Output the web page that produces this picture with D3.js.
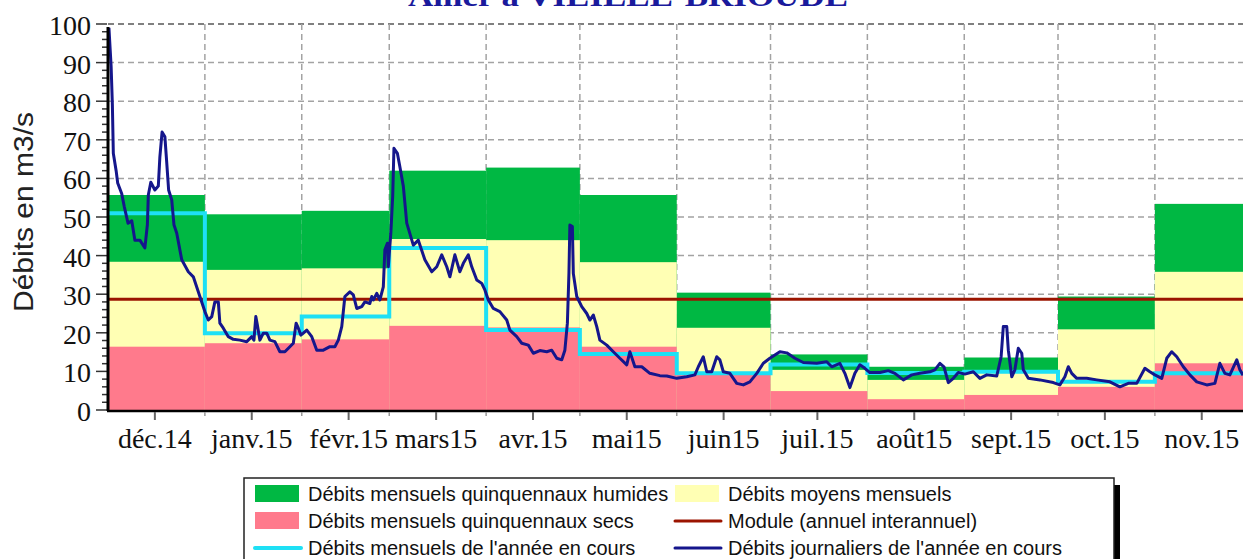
<!DOCTYPE html>
<html><head><meta charset="utf-8">
<script src="https://cdn.jsdelivr.net/npm/d3@7"></script>
<style>html,body{margin:0;padding:0;background:#fff;overflow:hidden}</style>
</head><body>
<svg id="chart" width="1243" height="559"></svg>
<script>
// ---------- DATA ----------
const title = "Allier à VIEILLE-BRIOUDE";
const yLabel = "Débits en m3/s";
const monthStarts = ["2014-12-01","2015-01-01","2015-02-01","2015-03-01","2015-04-01","2015-05-01","2015-06-01","2015-07-01","2015-08-01","2015-09-01","2015-10-01","2015-11-01","2015-12-01"];
const monthLabels = ["déc.14","janv.15","févr.15","mars15","avr.15","mai15","juin15","juil.15","août15","sept.15","oct.15","nov.15"];
const yTicks = [0,10,20,30,40,50,60,70,80,90,100];
const wetFlows  = [55.7,50.7,51.6,62.0,62.8,55.7,30.4,14.4,11.2,13.6,29.4,53.4];   // quinquennaux humides
const meanFlows = [38.4,36.3,36.7,44.3,44.0,38.3,21.3,10.4, 7.8, 9.8,20.9,35.8];   // moyens mensuels
const dryFlows  = [16.4,17.3,18.3,21.8,21.4,16.4, 9.1, 4.9, 2.8, 3.9, 6.0,12.1];   // quinquennaux secs
const currentMonthly = [51.0,19.9,24.2,42.0,20.7,14.5,9.5,11.8,9.6,9.9,7.3,9.5];
const moduleFlow = 28.7;
const dailyStart = "2014-12-01";
const dailyOffset = [0.3,1.0,1.4,1.7,2.6,3.1,4.4,5.2,6.4,7.6,8.6,10.2,11.8,12.6,12.9,13.7,15.0,16.1,16.6,17.3,18.2,18.8,19.4,20.4,21.1,22.0,23.6,25.7,27.3,29.4,31.0,32.1,33.2,34.2,35.3,35.8,36.9,38.5,40.1,42.2,44.4,46.0,46.7,47.3,47.8,48.6,49.7,50.8,51.8,53.4,55.0,56.6,58.2,59.3,60.2,60.9,61.7,62.5,63.6,65.2,66.8,68.9,71.0,72.6,73.7,74.8,75.8,77.4,78.5,79.6,81.2,82.2,83.8,84.4,84.9,86.0,87.0,88.1,88.6,89.4,89.7,90.5,91.1,91.5,92.6,93.4,94.5,95.6,97.7,99.3,101.4,103.6,105.2,106.8,108.4,109.4,111.0,112.6,113.7,115.3,116.4,118.0,119.6,120.6,121.7,123.3,125.4,127.6,128.6,130.8,132.4,134.5,136.1,138.2,140.4,142.0,143.6,145.2,146.2,147.0,147.5,147.8,148.6,148.9,150.0,151.6,153.2,154.2,155.3,156.4,157.4,159.6,161.7,163.8,166.0,167.0,168.6,170.8,173.4,176.6,178.8,182.0,185.2,187.8,188.9,190.5,191.6,193.2,194.8,195.8,196.9,199.0,201.2,203.3,205.4,207.6,209.7,211.8,215.0,217.2,219.8,222.5,226.8,230.0,231.6,234.2,235.8,237.4,239.0,240.6,242.2,243.8,247.0,249.7,251.8,254.5,257.2,259.8,263.0,264.6,266.2,267.5,268.9,270.5,272.1,274.2,276.9,279.0,281.2,284.4,285.8,286.5,287.6,288.1,289.2,290.2,291.3,292.4,292.9,294.5,298.2,302.5,304.6,306.2,307.3,308.4,310.0,313.2,316.4,320.6,323.8,326.5,329.2,331.8,333.4,335.0,337.2,338.8,340.4,342.0,344.1,346.2,348.4,351.6,354.2,355.8,357.4,359.0,361.2,362.2,363.2];
const dailyFlow = [99,89,79,66.5,62,58.8,56,52.7,48.4,49,44,44,42,48,55.7,59,57,58,65.6,72,70.8,64,57,54.4,48,45.8,38.9,35.8,34.5,29.4,25.5,23.3,24.2,28,28,22.5,21.2,19,18.3,18.1,17.7,19,18.1,24.2,22,18.1,19.9,19.9,18.1,17.7,15.1,15.1,16.4,17.3,22.5,21.2,19.4,19.9,20.7,19,15.5,15.5,16.4,16.4,18.1,21.6,29.4,30.6,29.8,26.3,26.8,28,27.6,29.4,28.5,30.2,28.5,31.9,41.5,43.2,37.1,45.8,55.3,67.8,66.5,63,58,48.4,42.7,44,38.9,35.8,37.1,40.2,37.1,34.5,40.2,35.8,38,40.2,37.1,33.7,32.8,31.1,28.5,26.3,25.5,23.3,20.7,19,17.3,16.8,14.7,15.4,15.1,15.5,13.4,13,15.5,22.5,35.4,47.9,47.5,35.4,29.4,26.8,25,23.3,24.6,21.6,18.1,16.8,15.1,13.4,11.7,15.1,11.2,11.2,9.5,8.9,8.8,8.2,8.6,9.1,11.2,13.8,9.9,9.9,13.8,13,9.9,9.5,6.9,6.5,7.3,9.5,12.1,13.4,15.1,14.8,13.4,12.3,12.1,12.5,11.2,12.1,9.5,5.8,9.5,11.7,10.8,9.7,9.7,10.2,9.5,7.8,9.1,9.5,9.9,10.4,12.1,11.2,7.1,8.2,9.7,9.3,9.9,8.2,9.1,8.8,13.8,21.6,21.6,15.5,8.6,10.4,16,14.7,10.4,8.2,7.8,7.1,6.5,8.6,11.2,9.5,8.2,8.2,7.8,7.3,6.0,6.9,6.9,10.8,9.9,9.1,8.2,13.4,15.1,13.8,11.2,9.1,7.3,6.5,6.9,12.1,9.5,9.1,13,10.4,9];
const legendItems = [
  {label:"Débits mensuels quinquennaux humides", kind:"rect", color:"#00b843"},
  {label:"Débits moyens mensuels", kind:"rect", color:"#ffffb4"},
  {label:"Débits mensuels quinquennaux secs", kind:"rect", color:"#ff7a8c"},
  {label:"Module (annuel interannuel)", kind:"line", color:"#9b1400"},
  {label:"Débits mensuels de l'année en cours", kind:"line", color:"#1ee0f5"},
  {label:"Débits journaliers de l'année en cours", kind:"line", color:"#15168c"}
];

// ---------- CHART ----------
const svg = d3.select("#chart");
svg.append("rect").attr("width",1243).attr("height",559).attr("fill","#fff");
const parse = d3.utcParse("%Y-%m-%d");
const months = monthStarts.map(parse);
const x = d3.scaleUtc().domain([months[0], months[12]]).range([108, 108 + 365*3.125]);
const y = d3.scaleLinear().domain([0,100]).range([410,24]);
const plotLeft = 108, plotRight = 1243, plotTop = y(100), plotBottom = y(0);

// gridlines
const grid = svg.append("g");
yTicks.filter(v=>v>0).forEach(v=>{
  grid.append("line").attr("x1",plotLeft).attr("x2",plotRight).attr("y1",y(v)).attr("y2",y(v))
    .attr("stroke", v===100 ? "#808080" : "#a3a3a3").attr("stroke-width", v===100?2:1.5).attr("stroke-dasharray","6,4");
});
months.slice(1,12).forEach(m=>{
  grid.append("line").attr("x1",x(m)).attr("x2",x(m)).attr("y1",plotTop).attr("y2",plotBottom)
    .attr("stroke","#a3a3a3").attr("stroke-width",1.5).attr("stroke-dasharray","6,4");
});

// bands
const bands = svg.append("g");
[[wetFlows,legendItems[0].color],[meanFlows,legendItems[1].color],[dryFlows,legendItems[2].color]].forEach(([arr,col])=>{
  bands.selectAll(null).data(arr).enter().append("rect")
    .attr("x",(d,i)=>x(months[i])).attr("width",(d,i)=>x(months[i+1])-x(months[i]))
    .attr("y",d=>y(d)).attr("height",d=>y(0)-y(d)).attr("fill",col);
});

// module
svg.append("line").attr("x1",plotLeft).attr("x2",plotRight).attr("y1",y(moduleFlow)).attr("y2",y(moduleFlow))
  .attr("stroke",legendItems[3].color).attr("stroke-width",3);

// monthly current (step)
const stepData = currentMonthly.map((v,i)=>({d:months[i],v})).concat([{d:months[12],v:currentMonthly[11]}]);
svg.append("path").datum(stepData)
  .attr("d", d3.line().x(p=>x(p.d)).y(p=>y(p.v)).curve(d3.curveStepAfter))
  .attr("fill","none").attr("stroke",legendItems[4].color).attr("stroke-width",4);

// daily
const start = parse(dailyStart);
const daily = dailyOffset.map((o,i)=>({d:new Date(start.getTime()+o*86400000), v:dailyFlow[i]}));
svg.append("path").datum(daily)
  .attr("d", d3.line().x(p=>x(p.d)).y(p=>y(p.v)))
  .attr("fill","none").attr("stroke",legendItems[5].color).attr("stroke-width",3).attr("stroke-linejoin","round");

// y axis
const yAx = svg.append("g");
d3.range(0,101,2).forEach(v=>{
  const major = v%10===0;
  yAx.append("line").attr("x1", major?96:102).attr("x2",107).attr("y1",y(v)).attr("y2",y(v))
    .attr("stroke","#333").attr("stroke-width",1.5);
});
yAx.selectAll("text").data(yTicks).enter().append("text")
  .attr("x",91).attr("y",v=>y(v)+11).attr("text-anchor","end")
  .style("font-family","'Liberation Serif', serif").style("font-size","28px").attr("fill","#111").text(v=>v);
yAx.append("line").attr("x1",108).attr("x2",108).attr("y1",27).attr("y2",411).attr("stroke","#000").attr("stroke-width",3);

// x axis
const xAx = svg.append("g");
xAx.append("line").attr("x1",107).attr("x2",plotRight).attr("y1",411).attr("y2",411).attr("stroke","#000").attr("stroke-width",2.5);
const mids = months.slice(0,12).map(m=>d3.utcDay.offset(m,15));
mids.forEach(m=>{
  xAx.append("line").attr("x1",x(m)).attr("x2",x(m)).attr("y1",412).attr("y2",420).attr("stroke","#666").attr("stroke-width",2);
});
months.slice(1,12).forEach(m=>{
  xAx.append("line").attr("x1",x(m)).attr("x2",x(m)).attr("y1",412).attr("y2",416).attr("stroke","#999").attr("stroke-width",1.5);
});
xAx.selectAll("text.xl").data(monthLabels).enter().append("text")
  .attr("x",(d,i)=>x(mids[i])).attr("y",448).attr("text-anchor","middle")
  .style("font-family","'Liberation Serif', serif").style("font-size","28px").attr("fill","#111").text(d=>d);

// y label
svg.append("text").attr("transform","translate(33,212) rotate(-90)").attr("text-anchor","middle")
  .attr("textLength",200).attr("lengthAdjust","spacingAndGlyphs")
  .style("font-family","'Liberation Sans', Arial, sans-serif").style("font-size","28px").attr("fill","#222").text(yLabel);

// title (cut off at the top edge, as in the reference)
svg.append("text").attr("x",408).attr("y",6).attr("textLength",440).attr("lengthAdjust","spacingAndGlyphs")
  .style("font-family","'Liberation Serif', serif").style("font-size","30px").style("font-weight","bold")
  .attr("fill","#1a1a9c").text(title);

// legend
const lg = svg.append("g");
lg.append("rect").attr("x",1114).attr("y",485).attr("width",6).attr("height",80).attr("fill","#000");
lg.append("rect").attr("x",244).attr("y",478).attr("width",870).attr("height",100)
  .attr("fill","#fff").attr("stroke","#222").attr("stroke-width",1.5);
const cols = [255, 675], rows = [494, 521, 548];
legendItems.forEach((it,i)=>{
  const cx = cols[i%2], cy = rows[Math.floor(i/2)];
  if (it.kind==="rect") {
    lg.append("rect").attr("x",cx).attr("y",cy-9).attr("width",44).attr("height",17).attr("fill",it.color);
  } else {
    lg.append("line").attr("x1",cx).attr("x2",cx+46).attr("y1",cy).attr("y2",cy)
      .attr("stroke",it.color).attr("stroke-width", i===4?4:3).attr("stroke-linecap","round");
  }
  lg.append("text").attr("x",cx+53).attr("y",cy+7)
    .style("font-family","'Liberation Sans', Arial, sans-serif").style("font-size","20px").attr("fill","#111").text(it.label);
});
</script>
</body></html>
